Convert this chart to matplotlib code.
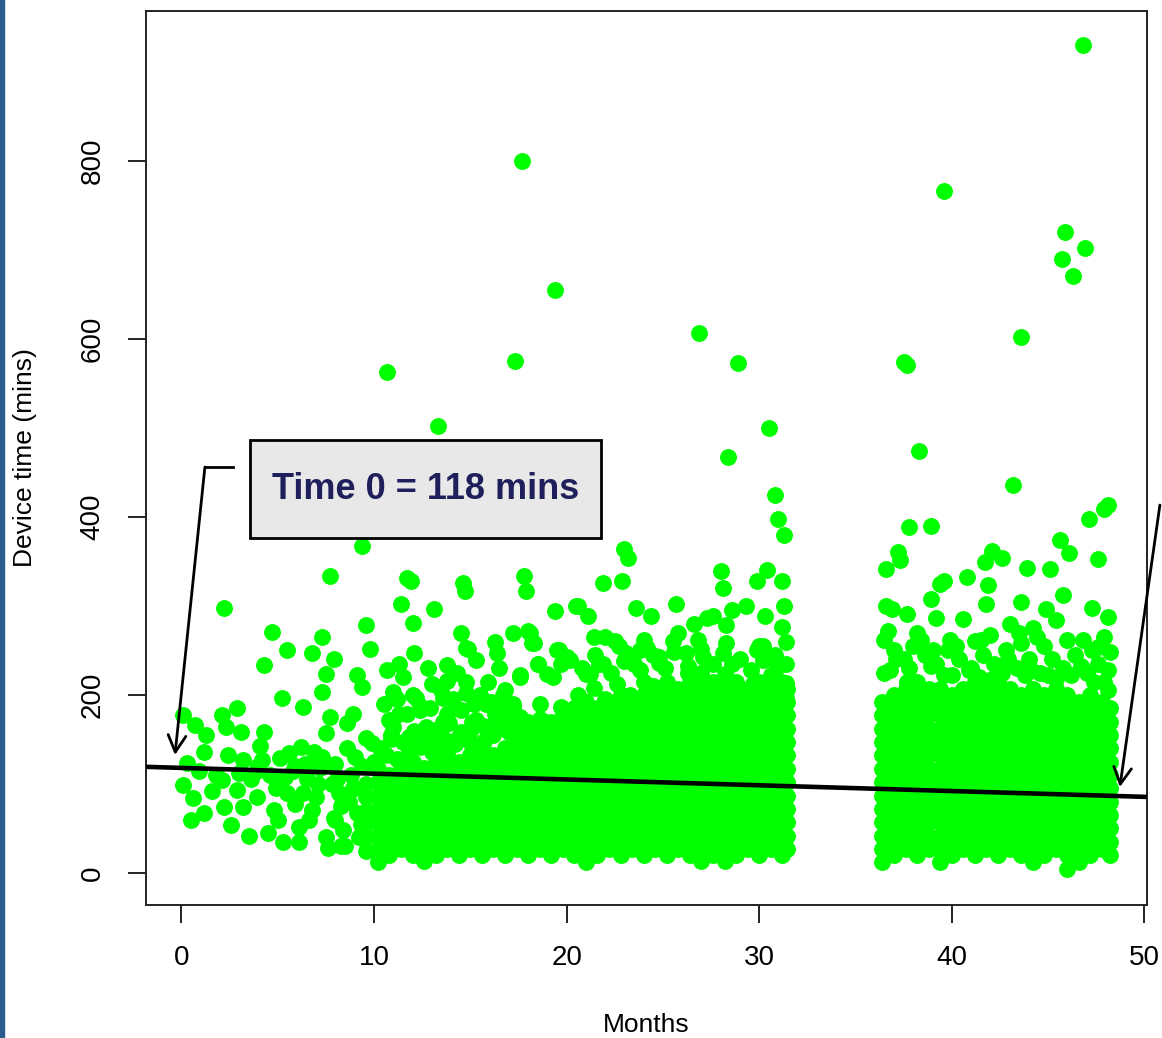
import matplotlib
matplotlib.use('Agg')
from matplotlib import pyplot as plt
from matplotlib.patches import Rectangle

plt.rcParams['font.family'] = ['Liberation Sans', 'DejaVu Sans']

# fitted line: device time = intercept + slope * month
intercept = 118
slope = -0.65

x_ticks = [0, 10, 20, 30, 40, 50]
y_ticks = [0, 200, 400, 600, 800]

# isolated high values
outlier_months = [46.8, 17.7, 39.6, 45.9, 46.9, 45.7, 46.3, 19.4, 26.9, 43.6, 17.3, 28.9, 37.7, 37.5,
                  10.7, 30.5, 13.3, 38.3, 28.4, 43.2, 30.8, 48.1, 47.9, 31.0, 47.1, 31.3, 9.4, 23.0, 23.2]
outlier_values = [930, 799, 766, 720, 702, 690, 670, 655, 606, 602, 575, 573, 571, 574,
                  563, 500, 502, 474, 467, 436, 424, 413, 409, 397, 397, 379, 367, 364, 354]

# first months, sparse
early_months = [0.1, 0.7, 1.3, 2.1, 2.9, 2.3, 3.1, 1.2, 2.4, 3.2, 4.3, 4.1, 4.2, 5.1, 6.2, 6.9, 7.5, 7.7,
                8.6, 8.9, 9.6, 0.3, 0.1, 0.6, 0.5, 1.2, 2.1, 2.9, 2.2, 2.6, 3.2, 3.9, 4.8, 5.5, 6.1, 6.1,
                6.8, 7.5, 8.2, 8.4, 9.1, 2.2, 4.7, 7.3, 5.5, 6.8, 4.3, 7.9, 7.5, 5.2, 6.3, 7.3, 9.1, 9.6,
                9.8, 9.4, 7.7, 1.8, 3.6, 4.6, 5.8, 6.5, 7.2, 8.0, 8.6, 5.0, 7.0, 8.8, 3.5, 4.9, 5.9, 6.6,
                7.9, 8.3, 8.9, 9.3, 1.6, 0.9, 3.0, 4.0, 5.4, 6.4, 7.1, 8.1, 9.0, 8.5, 7.6, 6.7,
                4.5, 5.3, 5.9, 6.3, 7.3, 7.8, 8.3, 8.7, 9.2, 9.4, 5.6, 6.8, 3.9, 8.0, 9.0]
early_values = [177, 166, 155, 177, 185, 164, 158, 136, 132, 127, 158, 143, 127, 129, 141, 136, 157, 175,
                168, 179, 152, 124, 99, 84, 59, 67, 104, 93, 74, 54, 74, 85, 71, 90, 52, 35,
                71, 40, 90, 48, 67, 298, 271, 265, 250, 247, 233, 240, 224, 197, 186, 203, 222, 278,
                252, 209, 334, 110, 105, 110, 115, 105, 118, 122, 140, 60, 85, 110, 42, 95, 78, 60,
                62, 75, 95, 55, 92, 115, 112, 120, 108, 122, 100, 105, 130, 30, 28, 120,
                45, 35, 120, 90, 130, 100, 30, 80, 40, 120, 135, 120, 115, 60, 95]

# values above the dense band, months 10-32
mid_months = [11.9, 11.7, 14.6, 14.7, 17.8, 17.9, 11.4, 13.1, 19.4, 20.5, 12.0, 14.5, 17.2, 18.1, 16.3, 16.4,
              14.9, 15.3, 18.3, 12.1, 19.6, 10.7, 11.3, 12.8, 13.8, 18.5, 20.0, 11.0, 11.5, 13.8, 17.6, 19.3,
              12.2, 13.6, 14.8, 15.2, 11.3, 12.4, 13.8, 14.5, 16.5, 17.2, 18.6, 19.7, 11.0, 12.7, 13.6, 15.3,
              16.5, 17.6, 18.6, 20.0, 9.9, 10.9, 11.8, 12.9, 13.6, 14.3, 16.2, 17.0, 18.4, 19.5,
              21.9, 22.9, 28.0, 28.1, 30.4, 29.9, 31.2, 20.6, 21.1, 23.6, 24.4, 25.7, 26.6, 27.3, 27.6,
              28.6, 28.3, 30.3, 31.2, 31.4, 21.4, 22.0, 25.8, 25.5, 24.2, 23.1, 23.5, 24.8, 26.2, 27.1,
              28.1, 29.9, 30.2, 30.9, 20.2, 21.2, 21.9, 28.6, 28.3, 31.4, 18.0, 18.2, 18.5, 14.8, 19.5,
              19.7, 21.7, 23.8, 24.8, 17.6, 19.0, 21.0, 20.6, 21.4, 22.0, 22.6, 23.3, 24.0, 24.5, 25.2,
              25.9, 26.6, 27.2, 27.8, 28.5, 29.1, 29.7, 30.3, 30.9, 31.4, 20.9, 22.4, 23.7, 26.0, 27.5,
              29.0, 30.6, 10.0, 10.6, 11.2, 11.8, 12.4, 13.0, 13.6, 14.2, 15.0, 15.7, 16.9, 17.5, 18.9,
              19.9, 15.8, 16.8, 29.3, 30.0, 31.3, 26.3, 22.5, 24.0, 27.0,
              10.3, 10.9, 11.5, 12.1, 12.7, 13.3, 13.9, 14.5, 15.1, 15.7, 16.3, 16.9, 10.5, 11.2, 12.0,
              12.9, 13.5, 14.1, 14.8, 15.5, 16.1, 16.7, 17.2, 11.7, 13.0, 14.3, 15.9, 16.5, 10.8, 12.4,
              20.8, 21.5, 22.3, 23.0, 23.8, 24.5, 25.1, 25.6, 26.3, 27.0, 27.6, 28.3, 29.0, 29.6, 30.2,
              30.8, 31.4, 26.8, 24.0, 22.7]
mid_values = [328, 331, 326, 317, 334, 317, 302, 296, 294, 300, 281, 270, 269, 269, 259, 247,
              252, 239, 258, 247, 250, 228, 235, 230, 233, 235, 242, 203, 220, 216, 220, 220,
              197, 197, 202, 190, 179, 183, 179, 183, 186, 190, 190, 186, 164, 164, 169, 172,
              171, 175, 173, 175, 146, 150, 153, 148, 152, 150, 155, 158, 165, 162,
              326, 328, 339, 320, 340, 328, 328, 300, 289, 298, 289, 302, 280, 286, 289,
              295, 278, 289, 276, 259, 265, 265, 270, 261, 253, 247, 235, 242, 247, 242,
              247, 250, 239, 231, 239, 224, 235, 235, 220, 213, 272, 258, 235, 253, 250,
              235, 235, 250, 236, 222, 224, 224, 200, 208, 195, 212, 200, 190, 210, 198,
              205, 195, 212, 200, 207, 195, 212, 202, 210, 196, 185, 180, 185, 190, 198,
              185, 215, 125, 132, 128, 138, 142, 136, 140, 145, 160, 148, 165, 160, 170,
              165, 190, 205, 300, 255, 300, 225, 260, 215, 225,
              140, 155, 147, 160, 150, 162, 168, 158, 170, 165, 178, 175, 190, 195, 200,
              185, 205, 195, 215, 200, 192, 200, 185, 178, 212, 225, 215, 230, 172, 188,
              230, 245, 225, 238, 228, 245, 230, 248, 232, 252, 235, 258, 240, 228, 255,
              245, 235, 262, 262, 255]

# values above the dense band, months 36-48
late_months = [37.8, 38.9, 37.2, 37.3, 36.6, 42.1, 42.6, 41.7, 43.9, 45.1, 45.6, 46.1, 47.6, 39.6, 39.4,
               40.8, 41.9, 38.9, 41.8, 43.6, 45.8, 36.9, 39.2, 40.6, 44.9, 47.3, 48.1, 43.0, 44.2, 45.4,
               36.7, 37.7, 42.0, 43.6, 47.9, 47.6, 48.1, 48.1, 36.5, 37.0, 37.5, 38.0, 38.6, 39.2, 39.8,
               40.4, 41.0, 41.6, 42.2, 42.8, 43.4, 44.0, 44.6, 45.2, 45.8, 46.4, 47.0, 47.6, 36.8, 37.8,
               38.9, 40.0, 41.4, 42.6, 43.8, 45.0, 46.2, 47.4, 36.6, 38.2, 39.9, 41.2, 44.4, 46.8,
               36.5, 37.1, 37.7, 38.4, 39.0, 39.6, 40.2, 40.9, 41.5, 42.1, 42.9, 43.5, 44.1, 44.8, 45.4,
               46.0, 46.7, 47.3, 47.9, 48.2]
late_values = [388, 390, 360, 351, 341, 362, 354, 349, 343, 341, 374, 359, 353, 328, 325,
               332, 323, 308, 302, 304, 312, 297, 286, 285, 297, 298, 287, 280, 275, 284,
               272, 291, 267, 258, 265, 254, 228, 206, 262, 250, 240, 255, 245, 235, 250,
               240, 230, 245, 235, 250, 230, 240, 225, 240, 230, 245, 225, 235, 228, 230,
               232, 222, 220, 225, 222, 222, 222, 215, 300, 270, 262, 260, 265, 262,
               225, 240, 215, 262, 250, 222, 255, 228, 262, 218, 240, 270, 228, 255, 218,
               262, 232, 250, 215, 248]

# dense band, months 10-32 (one column per list)
band_a_months = [9.6, 10.2, 10.8, 11.4, 12.0, 12.6, 13.2, 13.8, 14.4, 15.0, 15.6, 16.2, 16.8, 17.4, 18.0,
                 18.6, 19.2, 19.8, 20.4, 21.0, 21.6, 22.2, 22.8, 23.4, 24.0, 24.6, 25.2, 25.8, 26.4, 27.0,
                 27.6, 28.2, 28.8, 29.4, 30.0, 30.6, 31.2, 31.45]
band_a_values = [
    [25, 40, 55, 70, 85, 100],
    [12, 27, 42, 57, 72, 87, 102, 117],
    [20, 35, 50, 65, 80, 95, 110],
    [27, 42, 57, 72, 87, 102, 117],
    [20, 35, 50, 65, 80, 95, 110, 125],
    [13, 28, 43, 58, 73, 88, 103, 118],
    [20, 35, 50, 65, 80, 95, 110, 125],
    [27, 42, 57, 72, 87, 102, 117, 132],
    [20, 35, 50, 65, 80, 95, 110, 125],
    [27, 42, 57, 72, 87, 102, 117, 132, 147],
    [20, 35, 50, 65, 80, 95, 110, 125, 140],
    [27, 42, 57, 72, 87, 102, 117, 132],
    [20, 35, 50, 65, 80, 95, 110, 125, 140],
    [27, 42, 57, 72, 87, 102, 117, 132, 147, 162],
    [20, 35, 50, 65, 80, 95, 110, 125, 140, 155, 170],
    [27, 42, 57, 72, 87, 102, 117, 132, 147, 162],
    [20, 35, 50, 65, 80, 95, 110, 125, 140, 155, 170],
    [27, 42, 57, 72, 87, 102, 117, 132, 147, 162, 177],
    [20, 35, 50, 65, 80, 95, 110, 125, 140, 155, 170, 185],
    [12, 27, 42, 57, 72, 87, 102, 117, 132, 147, 162, 177, 192],
    [20, 35, 50, 65, 80, 95, 110, 125, 140, 155, 170, 185],
    [27, 42, 57, 72, 87, 102, 117, 132, 147, 162, 177, 192],
    [20, 35, 50, 65, 80, 95, 110, 125, 140, 155, 170, 185, 200],
    [27, 42, 57, 72, 87, 102, 117, 132, 147, 162, 177, 192],
    [20, 35, 50, 65, 80, 95, 110, 125, 140, 155, 170, 185, 200],
    [27, 42, 57, 72, 87, 102, 117, 132, 147, 162, 177, 192, 207],
    [20, 35, 50, 65, 80, 95, 110, 125, 140, 155, 170, 185, 200, 215],
    [27, 42, 57, 72, 87, 102, 117, 132, 147, 162, 177, 192, 207],
    [20, 35, 50, 65, 80, 95, 110, 125, 140, 155, 170, 185, 200, 215],
    [13, 28, 43, 58, 73, 88, 103, 118, 133, 148, 163, 178, 193, 208],
    [20, 35, 50, 65, 80, 95, 110, 125, 140, 155, 170, 185, 200, 215],
    [13, 28, 43, 58, 73, 88, 103, 118, 133, 148, 163, 178, 193, 208, 223],
    [20, 35, 50, 65, 80, 95, 110, 125, 140, 155, 170, 185, 200, 215],
    [27, 42, 57, 72, 87, 102, 117, 132, 147, 162, 177, 192, 207],
    [20, 35, 50, 65, 80, 95, 110, 125, 140, 155, 170, 185, 200, 215],
    [27, 42, 57, 72, 87, 102, 117, 132, 147, 162, 177, 192, 207, 222],
    [20, 35, 50, 65, 80, 95, 110, 125, 140, 155, 170, 185, 200, 215],
    [27, 42, 57, 72, 87, 102, 117, 132, 147, 162, 177, 192, 207],
]

# dense band, months 36-48
band_b_months = [36.4, 37.0, 37.6, 38.2, 38.8, 39.4, 40.0, 40.6, 41.2, 41.8, 42.4, 43.0, 43.6, 44.2,
                 44.8, 45.4, 46.0, 46.6, 47.2, 47.8, 48.2]
band_b_values = [
    [12, 27, 42, 57, 72, 87, 102, 117, 132, 147, 162, 177, 192],
    [20, 35, 50, 65, 80, 95, 110, 125, 140, 155, 170, 185, 200],
    [27, 42, 57, 72, 87, 102, 117, 132, 147, 162, 177, 192, 207],
    [20, 35, 50, 65, 80, 95, 110, 125, 140, 155, 170, 185, 200, 215],
    [27, 42, 57, 72, 87, 102, 117, 132, 147, 162, 177, 192, 207],
    [12, 27, 42, 57, 72, 87, 102, 117, 132, 147, 162, 177, 192, 207],
    [20, 35, 50, 65, 80, 95, 110, 125, 140, 155, 170, 185, 200],
    [27, 42, 57, 72, 87, 102, 117, 132, 147, 162, 177, 192, 207],
    [20, 35, 50, 65, 80, 95, 110, 125, 140, 155, 170, 185, 200, 215],
    [27, 42, 57, 72, 87, 102, 117, 132, 147, 162, 177, 192, 207],
    [20, 35, 50, 65, 80, 95, 110, 125, 140, 155, 170, 185, 200, 215],
    [27, 42, 57, 72, 87, 102, 117, 132, 147, 162, 177, 192, 207],
    [20, 35, 50, 65, 80, 95, 110, 125, 140, 155, 170, 185, 200],
    [12, 27, 42, 57, 72, 87, 102, 117, 132, 147, 162, 177, 192, 207],
    [20, 35, 50, 65, 80, 95, 110, 125, 140, 155, 170, 185, 200],
    [27, 42, 57, 72, 87, 102, 117, 132, 147, 162, 177, 192, 207],
    [5, 20, 35, 50, 65, 80, 95, 110, 125, 140, 155, 170, 185, 200],
    [12, 27, 42, 57, 72, 87, 102, 117, 132, 147, 162, 177, 192],
    [20, 35, 50, 65, 80, 95, 110, 125, 140, 155, 170, 185, 200],
    [27, 42, 57, 72, 87, 102, 117, 132, 147, 162, 177, 192],
    [20, 35, 50, 65, 80, 95, 110, 125, 140, 155, 170, 185],
]

months = outlier_months + early_months + mid_months + late_months
values = outlier_values + early_values + mid_values + late_values
for col_months, col_values in [(band_a_months, band_a_values), (band_b_months, band_b_values)]:
    for m, col in zip(col_months, col_values):
        months += [m] * len(col)
        values += col

fig = plt.figure(figsize=(11.62, 10.38), dpi=100)
ax = fig.add_axes([0.1256, 0.1281, 0.8614, 0.8613])

# slide border on the left
fig.patches.append(Rectangle((0, 0), 4 / 1162, 1, transform=fig.transFigure, color='#2d5d8c'))

ax.scatter(months, values, s=148, c='#00ff00', linewidths=0, zorder=2)
ax.axline((0, intercept), slope=slope, color='black', lw=3.3, zorder=3)

ax.set_xlim(-1.84, 50.13)
ax.set_ylim(-36, 968)
ax.set_xticks(x_ticks)
ax.set_yticks(y_ticks)
ax.tick_params(direction='out', length=13, width=1.4, labelsize=20, pad=16, color='#222222')
for lbl in ax.get_yticklabels():
    lbl.set_rotation(90)
    lbl.set_va('center')
for sp in ax.spines.values():
    sp.set_linewidth(1.4)
    sp.set_color('#222222')

ax.set_xlabel('Months', fontsize=19)
ax.xaxis.set_label_coords(0.4995, -0.134)
ax.xaxis.label.set_va('center')
ax.set_ylabel('Device time (mins)', fontsize=19)
ax.yaxis.set_label_coords(-0.121, 0.5)
ax.yaxis.label.set_va('center')

# callout box
ax.add_patch(Rectangle((0.1039, 0.4105), 0.3506, 0.1096, transform=ax.transAxes, facecolor='#e8e8e8',
                       edgecolor='black', lw=2, zorder=5, clip_on=False))
ax.text(0.2792, 0.4653, f'Time 0 = {intercept} mins', transform=ax.transAxes, ha='center', va='center',
        fontsize=26, fontweight='bold', color='#1f1f5c', zorder=6)

head = dict(arrowstyle='->, head_length=0.6, head_width=0.32', lw=2, color='black',
            mutation_scale=20, shrinkA=0, shrinkB=0)
ax.plot([0.0869, 0.0589], [0.4899, 0.4899], transform=ax.transAxes, color='black', lw=2,
        clip_on=False, zorder=6)
ax.annotate('', xy=(0.0290, 0.1678), xytext=(0.0589, 0.4899), xycoords='axes fraction',
            arrowprops=head, zorder=6)
ax.annotate('', xy=(0.973, 0.132), xytext=(1.013, 0.4474), xycoords='axes fraction',
            arrowprops=head, annotation_clip=False, zorder=6)

fig.savefig('out.png', dpi=100)
